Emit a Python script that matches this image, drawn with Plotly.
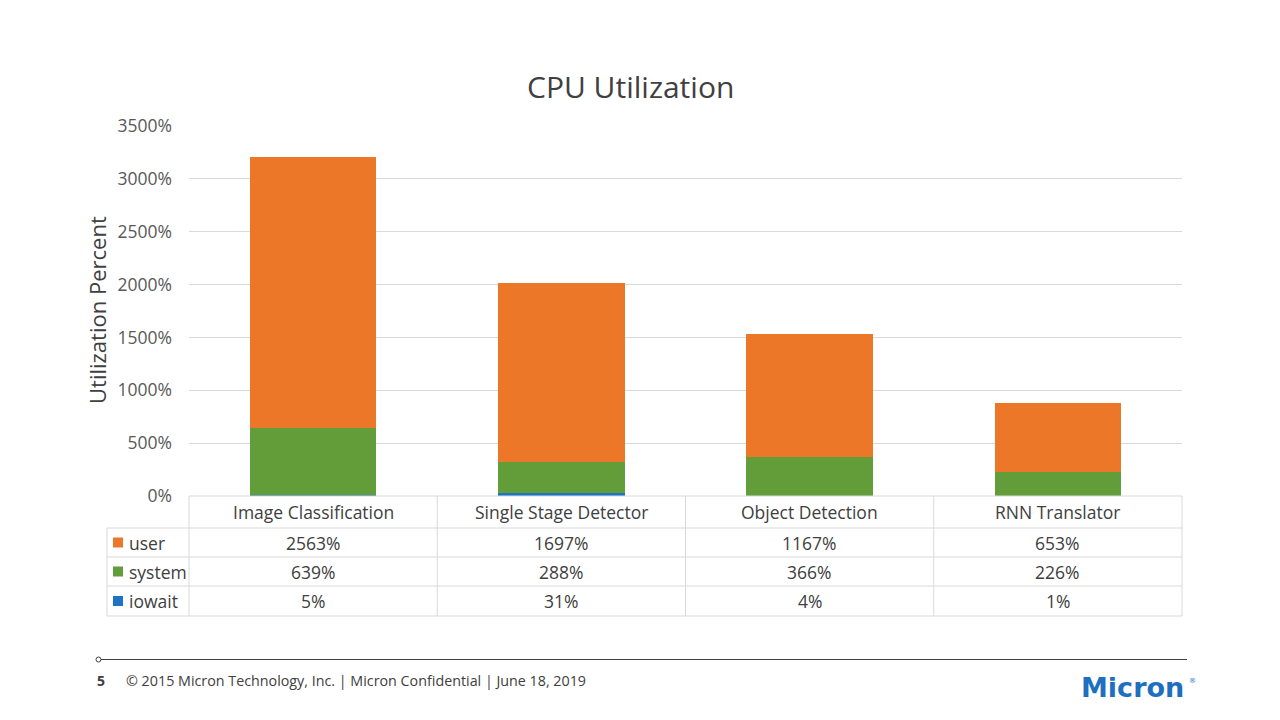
import plotly.graph_objects as go

W, H = 1280, 720
categories = ["Image Classification", "Single Stage Detector", "Object Detection", "RNN Translator"]
user = [2563, 1697, 1167, 653]
system = [639, 288, 366, 226]
iowait = [5, 31, 4, 1]
series_names = ["user", "system", "iowait"]
series_values = [user, system, iowait]
colors = {"user": "#ED7729", "system": "#629D39", "iowait": "#1F73C5"}
y_ticks = [0, 500, 1000, 1500, 2000, 2500, 3000, 3500]

FONT = "Open Sans"
TXT = "#404040"
GRID = "#D9D9D9"

def px(x):
    return x / W

def py(y):
    return 1 - y / H

x0, x1 = 189, 1182
yb, yt = 496, 126

fig = go.Figure()
for name in ["iowait", "system", "user"]:
    vals = series_values[series_names.index(name)]
    fig.add_trace(go.Bar(x=list(range(len(categories))), y=vals, name=name,
                         marker=dict(color=colors[name], line=dict(width=0)),
                         width=0.51, showlegend=False, hoverinfo="y"))

shapes = []
annotations = []

row_y = [496, 528, 557, 586, 616]
col_x = [x0 + (x1 - x0) * i / len(categories) for i in range(len(categories) + 1)]
left_x = 107

shapes.append(dict(type="line", xref="paper", yref="paper", x0=px(x0), x1=px(x1),
                   y0=py(row_y[0]), y1=py(row_y[0]), line=dict(color=GRID, width=1)))
for ry in row_y[1:]:
    shapes.append(dict(type="line", xref="paper", yref="paper", x0=px(left_x), x1=px(x1),
                       y0=py(ry), y1=py(ry), line=dict(color=GRID, width=1)))
shapes.append(dict(type="line", xref="paper", yref="paper", x0=px(left_x), x1=px(left_x),
                   y0=py(row_y[1]), y1=py(row_y[-1]), line=dict(color=GRID, width=1)))
for cx in col_x:
    shapes.append(dict(type="line", xref="paper", yref="paper", x0=px(cx), x1=px(cx),
                       y0=py(row_y[0]), y1=py(row_y[-1]), line=dict(color=GRID, width=1)))

for i, c in enumerate(categories):
    annotations.append(dict(x=i, xref="x", y=py((row_y[0] + row_y[1]) / 2), yref="paper",
                            text=c, showarrow=False, xanchor="center", yanchor="middle",
                            font=dict(family=FONT, size=17.5, color=TXT)))
for r, name in enumerate(series_names):
    yc = (row_y[r + 1] + row_y[r + 2]) / 2
    shapes.append(dict(type="rect", xref="paper", yref="paper",
                       x0=px(113), x1=px(123), y0=py(yc - 5), y1=py(yc + 5),
                       fillcolor=colors[name], line=dict(width=0)))
    annotations.append(dict(x=px(127), xref="paper", y=py(yc), yref="paper", text=name,
                            showarrow=False, xanchor="left", yanchor="middle",
                            font=dict(family=FONT, size=17.5, color=TXT)))
    for i, v in enumerate(series_values[r]):
        annotations.append(dict(x=i, xref="x", y=py(yc), yref="paper", text=f"{v}%",
                                showarrow=False, xanchor="center", yanchor="middle",
                                font=dict(family=FONT, size=17.5, color=TXT)))

annotations.append(dict(x=px(97), xref="paper", y=py(310), yref="paper", text="Utilization Percent",
                        textangle=-90, showarrow=False, xanchor="center", yanchor="middle",
                        font=dict(family=FONT, size=22, color=TXT)))
annotations.append(dict(x=px(630), xref="paper", y=py(86), yref="paper", text="CPU Utilization",
                        showarrow=False, xanchor="center", yanchor="middle",
                        font=dict(family=FONT, size=30, color=TXT)))

shapes.append(dict(type="line", xref="paper", yref="paper", x0=px(101), x1=px(1187),
                   y0=py(659.5), y1=py(659.5), line=dict(color="#404040", width=1)))
shapes.append(dict(type="circle", xref="paper", yref="paper", x0=px(96), x1=px(101),
                   y0=py(662), y1=py(657), line=dict(color="#404040", width=1), fillcolor="white"))
annotations.append(dict(x=px(95), xref="paper", y=py(680), yref="paper", text="<b>5</b>",
                        showarrow=False, xanchor="left", yanchor="middle",
                        font=dict(family=FONT, size=14, color=TXT)))
annotations.append(dict(x=px(124), xref="paper", y=py(680), yref="paper",
                        text="© 2015 Micron Technology, Inc. | Micron Confidential | June 18, 2019",
                        showarrow=False, xanchor="left", yanchor="middle",
                        font=dict(family=FONT, size=14.3, color=TXT)))
annotations.append(dict(x=px(1186), xref="paper", y=py(687), yref="paper",
                        text="<b>Micron</b>",
                        showarrow=False, xanchor="right", yanchor="middle",
                        font=dict(family="DejaVu Sans", size=27, color="#1E6FC0")))
annotations.append(dict(x=px(1187), xref="paper", y=py(681), yref="paper",
                        text="®",
                        showarrow=False, xanchor="left", yanchor="middle",
                        font=dict(family="DejaVu Sans", size=7, color="#1E6FC0")))

fig.update_layout(
    width=W, height=H, margin=dict(l=0, r=0, t=0, b=0, autoexpand=False),
    paper_bgcolor="white", plot_bgcolor="white",
    barmode="stack", bargap=0,
    shapes=shapes, annotations=annotations,
    xaxis=dict(domain=[px(x0), px(x1)], range=[-0.5, len(categories) - 0.5],
               showticklabels=False, showgrid=False, zeroline=False, showline=False,
               fixedrange=True, automargin=False),
    yaxis=dict(domain=[py(yb), py(yt)], range=[0, 3500], tickvals=y_ticks,
               ticktext=[f"{v}%" for v in y_ticks], showgrid=True, gridcolor=GRID, gridwidth=1,
               zeroline=False, showline=False, ticks="", ticklabelstandoff=16, automargin=False,
               tickfont=dict(family=FONT, size=17.5, color="#595959")),
)
fig.write_html("out.html")
